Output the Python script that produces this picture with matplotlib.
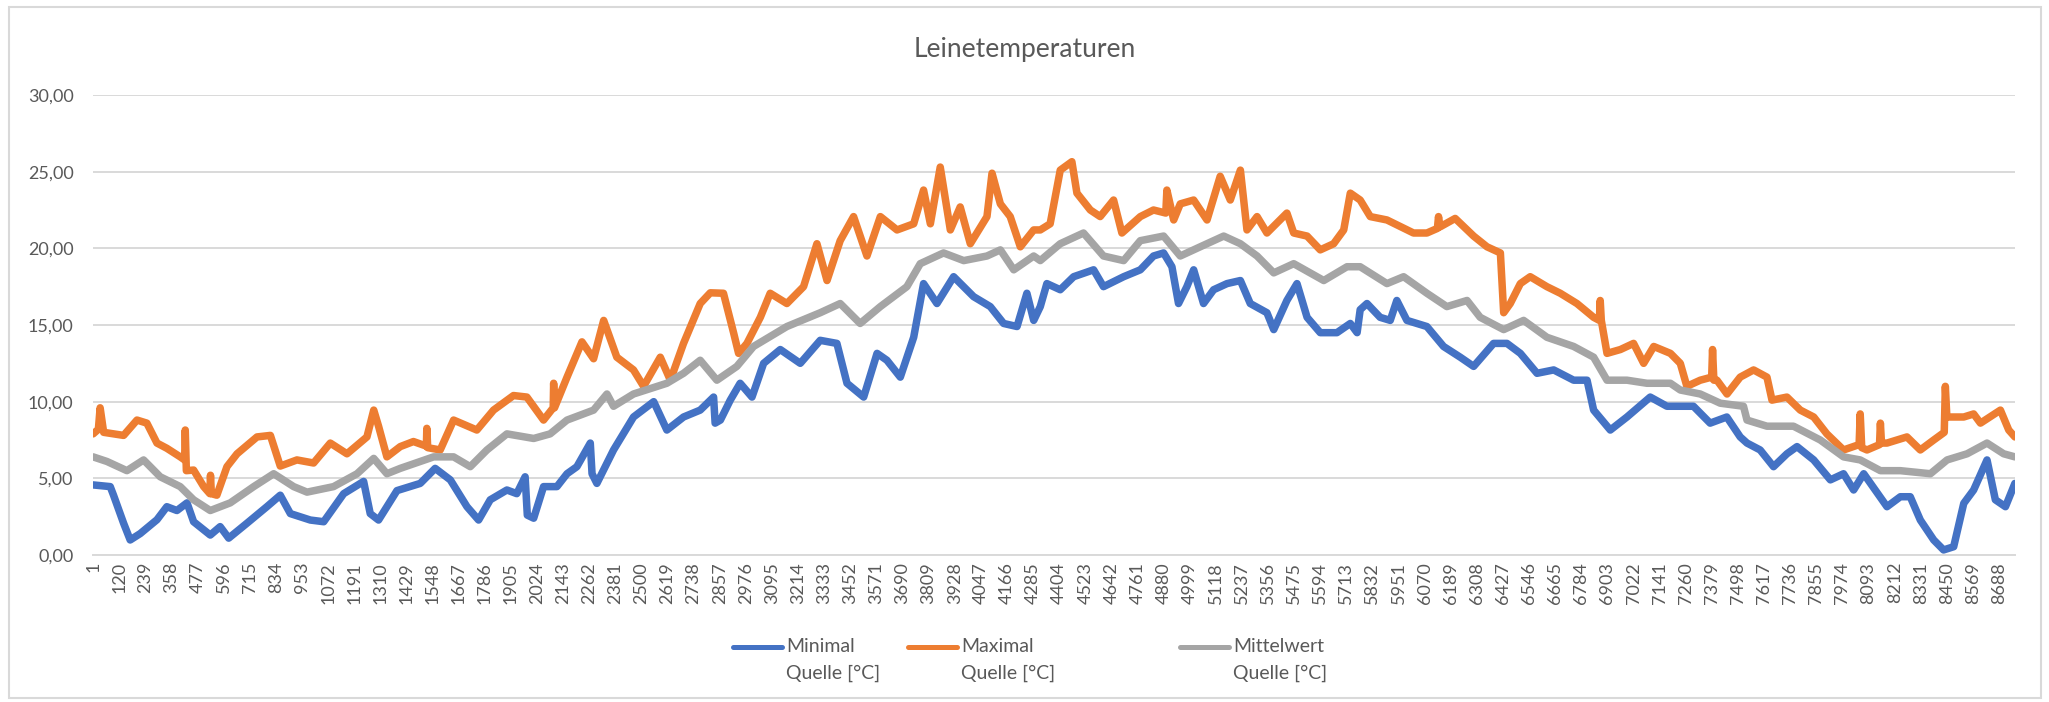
import matplotlib
matplotlib.use("Agg")
import matplotlib.pyplot as plt
from matplotlib.lines import Line2D
from matplotlib.patches import Rectangle
from matplotlib.ticker import FuncFormatter

plt.rcParams['font.family'] = ['Lato', 'DejaVu Sans']

# hour of year -> temperature [°C] at turning points
min_hours = [1, 79, 94, 140, 170, 216, 292, 337, 383, 429, 459, 535, 580, 619, 702, 793, 854, 900,
             991, 1052, 1143, 1234, 1264, 1302, 1386, 1492, 1560, 1629, 1705, 1758, 1811, 1887, 1932,
             1970, 1980, 2009, 2054, 2115, 2161, 2206, 2267, 2275, 2297, 2373, 2464, 2556, 2616, 2692,
             2768, 2829, 2836, 2860, 2905, 2950, 3004, 3057, 3133, 3224, 3315, 3391, 3437, 3513, 3574,
             3619, 3680, 3741, 3786, 3847, 3923, 4014, 4090, 4151, 4212, 4257, 4288, 4318, 4348, 4409,
             4470, 4561, 4606, 4698, 4774, 4834, 4880, 4918, 4948, 4986, 5017, 5062, 5108, 5169, 5230,
             5275, 5351, 5382, 5442, 5488, 5534, 5594, 5670, 5731, 5762, 5776, 5807, 5867, 5913, 5943,
             5989, 6080, 6156, 6232, 6293, 6384, 6445, 6506, 6582, 6658, 6749, 6810, 6840, 6916, 6992,
             7098, 7174, 7235, 7295, 7371, 7447, 7508, 7539, 7599, 7660, 7721, 7767, 7843, 7919, 7979,
             8025, 8071, 8177, 8238, 8283, 8329, 8390, 8435, 8481, 8527, 8572, 8633, 8671, 8717, 8760]
min_vals = [4.57, 4.46, 3.9, 2.07, 0.98, 1.4, 2.3, 3.15, 2.9, 3.4, 2.17, 1.3, 1.85, 1.1, 2.07, 3.15, 3.9, 2.7,
            2.28, 2.17, 4.0, 4.8, 2.7, 2.28, 4.2, 4.67, 5.65, 4.9, 3.15, 2.28, 3.6, 4.24, 4.0,
            5.1, 2.6, 2.4, 4.46, 4.46, 5.3, 5.76, 7.3, 5.3, 4.67, 6.85, 9.0, 10.0, 8.15, 9.0,
            9.45, 10.3, 8.6, 8.8, 10.1, 11.2, 10.3, 12.5, 13.4, 12.5, 14.0, 13.8, 11.2, 10.3, 13.15,
            12.7, 11.6, 14.2, 17.7, 16.4, 18.15, 16.85, 16.2, 15.1, 14.9, 17.07, 15.3, 16.2, 17.7, 17.3,
            18.15, 18.6, 17.5, 18.15, 18.6, 19.5, 19.7, 18.8, 16.4, 17.5, 18.6, 16.4, 17.3, 17.7, 17.9,
            16.4, 15.8, 14.7, 16.6, 17.7, 15.5, 14.5, 14.5, 15.1, 14.5, 16.0, 16.4, 15.5, 15.3, 16.6,
            15.3, 14.9, 13.6, 12.9, 12.3, 13.8, 13.8, 13.15, 11.85, 12.07, 11.4, 11.4, 9.45, 8.15, 9.0,
            10.3, 9.7, 9.7, 9.7, 8.6, 9.0, 7.7, 7.3, 6.85, 5.76, 6.6, 7.07, 6.2, 4.9, 5.3,
            4.24, 5.3, 3.15, 3.8, 3.8, 2.28, 0.98, 0.33, 0.54, 3.37, 4.24, 6.2, 3.6, 3.15, 4.67]

max_hours = [1, 25, 33, 49, 140, 201, 246, 292, 337, 398, 418, 421, 426, 459, 505, 533, 536, 540, 565,
             611, 657, 748, 809, 854, 930, 1006, 1082, 1158, 1249, 1280, 1302, 1340, 1401, 1461, 1520,
             1522, 1526, 1583, 1644, 1750, 1826, 1917, 1978, 2054, 2098, 2100, 2104, 2161, 2229, 2282,
             2328, 2388, 2464, 2510, 2586, 2632, 2692, 2768, 2814, 2874, 2920, 2943, 2981, 3042, 3087,
             3163, 3239, 3300, 3346, 3406, 3467, 3528, 3589, 3665, 3741, 3786, 3817, 3862, 3908, 3953,
             3999, 4075, 4098, 4136, 4181, 4227, 4288, 4318, 4363, 4409, 4462, 4485, 4546, 4591, 4652,
             4690, 4774, 4834, 4890, 4895, 4926, 4956, 5017, 5078, 5138, 5184, 5230, 5260, 5306, 5351,
             5442, 5473, 5534, 5594, 5655, 5701, 5731, 5776, 5822, 5898, 6019, 6080, 6128, 6133, 6140,
             6209, 6293, 6354, 6415, 6430, 6460, 6506, 6551, 6627, 6688, 6764, 6840, 6866, 6870, 6875,
             6901, 6962, 7022, 7068, 7114, 7190, 7235, 7265, 7326, 7378, 7382, 7388, 7402, 7448, 7508,
             7569, 7630, 7653, 7721, 7782, 7843, 7903, 7979, 8050, 8055, 8062, 8086, 8143, 8147, 8152,
             8177, 8268, 8329, 8390, 8438, 8443, 8450, 8466, 8527, 8572, 8603, 8694, 8732, 8760]
max_vals = [7.9, 8.2, 9.6, 8.0, 7.8, 8.8, 8.6, 7.3, 6.96, 6.4, 6.2, 8.15, 5.5, 5.54, 4.46, 4.0, 5.2, 4.0, 3.9,
            5.76, 6.6, 7.7, 7.8, 5.8, 6.2, 6.0, 7.3, 6.6, 7.7, 9.45, 8.4, 6.4, 7.07, 7.4, 7.1,
            8.26, 7.0, 6.85, 8.8, 8.15, 9.45, 10.4, 10.3, 8.8, 9.6, 11.2, 9.6, 11.6, 13.9, 12.8,
            15.3, 12.9, 12.07, 11.0, 12.9, 11.4, 13.8, 16.4, 17.1, 17.07, 14.5, 13.15, 13.8, 15.5, 17.07,
            16.4, 17.5, 20.3, 17.9, 20.5, 22.07, 19.5, 22.07, 21.2, 21.6, 23.8, 21.6, 25.3, 21.2, 22.7,
            20.3, 22.07, 24.9, 22.9, 22.07, 20.1, 21.2, 21.2, 21.6, 25.1, 25.65, 23.6, 22.5, 22.07, 23.15,
            21.0, 22.07, 22.5, 22.3, 23.8, 21.85, 22.9, 23.15, 21.85, 24.7, 23.15, 25.1, 21.2, 22.07, 21.0,
            22.3, 21.0, 20.8, 19.9, 20.3, 21.2, 23.6, 23.15, 22.07, 21.85, 21.0, 21.0, 21.3, 22.07, 21.4,
            21.95, 20.8, 20.1, 19.7, 15.8, 16.4, 17.7, 18.15, 17.5, 17.07, 16.4, 15.5, 15.3, 16.6, 15.3,
            13.15, 13.4, 13.8, 12.5, 13.6, 13.15, 12.5, 11.0, 11.4, 11.6, 13.4, 11.4, 11.4, 10.5, 11.6,
            12.07, 11.6, 10.1, 10.3, 9.45, 9.0, 7.9, 6.85, 7.2, 9.2, 7.0, 6.85, 7.2, 8.6, 7.3,
            7.3, 7.7, 6.85, 7.5, 8.0, 11.0, 9.0, 9.0, 9.0, 9.2, 8.6, 9.45, 8.15, 7.7]

mean_hours = [1, 64, 155, 231, 307, 398, 459, 535, 626, 733, 824, 915, 976, 1097, 1204, 1280, 1340,
              1401, 1553, 1644, 1720, 1796, 1887, 2009, 2084, 2161, 2282, 2343, 2373, 2464, 2616, 2692,
              2768, 2844, 2935, 3011, 3163, 3315, 3406, 3497, 3589, 3710, 3771, 3877, 3969, 4075, 4136,
              4197, 4288, 4318, 4409, 4515, 4606, 4698, 4774, 4880, 4956, 5047, 5154, 5230, 5306, 5382,
              5473, 5610, 5716, 5776, 5898, 5974, 6080, 6171, 6263, 6323, 6430, 6521, 6627, 6749, 6840,
              6901, 6992, 7083, 7190, 7235, 7326, 7417, 7523, 7539, 7630, 7751, 7873, 7979, 8055, 8147,
              8238, 8375, 8451, 8542, 8633, 8709, 8760]
mean_vals = [6.4, 6.1, 5.5, 6.2, 5.1, 4.46, 3.6, 2.9, 3.4, 4.46, 5.3, 4.46, 4.1, 4.46, 5.3, 6.3, 5.3,
             5.65, 6.4, 6.4, 5.76, 6.85, 7.9, 7.6, 7.9, 8.8, 9.45, 10.5, 9.7, 10.5, 11.2, 11.85,
             12.7, 11.4, 12.3, 13.6, 14.9, 15.8, 16.4, 15.1, 16.2, 17.5, 19.0, 19.7, 19.2, 19.5, 19.9,
             18.6, 19.5, 19.2, 20.3, 21.0, 19.5, 19.2, 20.5, 20.8, 19.5, 20.1, 20.8, 20.3, 19.5, 18.4,
             19.0, 17.9, 18.8, 18.8, 17.7, 18.15, 17.07, 16.2, 16.6, 15.5, 14.7, 15.3, 14.2, 13.6, 12.9,
             11.4, 11.4, 11.2, 11.2, 10.76, 10.5, 9.9, 9.7, 8.8, 8.4, 8.4, 7.5, 6.4, 6.2, 5.5,
             5.5, 5.3, 6.2, 6.6, 7.3, 6.6, 6.4]

series_labels = ['Minimal\nQuelle [°C]', 'Maximal\nQuelle [°C]', 'Mittelwert\nQuelle [°C]']
colors = ['#4472C4', '#ED7D31', '#A5A5A5']
n_hours = 8760
tick_step = 119

W, H = 2049, 702
fig = plt.figure(figsize=(W / 100, H / 100), dpi=100)
ax = fig.add_axes([93 / W, 1 - 555 / H, (2015 - 93) / W, (555 - 95) / H])

series = [(min_hours, min_vals), (max_hours, max_vals), (mean_hours, mean_vals)]
for (hx, hv), c in zip(series, colors):
    ax.plot(hx, hv, color=c, lw=5.4, solid_joinstyle='round', solid_capstyle='round')

ax.set_xlim(0.5, n_hours + 0.5)
ax.set_ylim(0, 30)
ax.set_yticks(range(0, 31, 5))
ax.yaxis.set_major_formatter(FuncFormatter(lambda v, p: f"{v:.2f}".replace('.', ',')))
xt = list(range(1, n_hours + 1, tick_step))
ax.set_xticks(xt)
ax.set_xticklabels([str(t) for t in xt], rotation=90)
ax.tick_params(axis='both', length=0, colors='#595959', labelsize=13)
ax.tick_params(axis='y', pad=14)
ax.tick_params(axis='x', pad=5)
ax.yaxis.grid(True, color='#d9d9d9', lw=1.4)
ax.set_axisbelow(True)
for s in ['top', 'right', 'left']:
    ax.spines[s].set_visible(False)
ax.spines['bottom'].set_color('#d9d9d9')
ax.spines['bottom'].set_linewidth(1.4)

fig.text(0.5, 1 - 50 / H, 'Leinetemperaturen', ha='center', va='center',
         fontsize=19, color='#595959')

# legend laid out like the Excel one (handle next to the first line)
leg_x = [733, 908, 1180]
for x0, c, lab in zip(leg_x, colors, series_labels):
    y1 = 1 - 647 / H
    fig.add_artist(Line2D([x0 / W, (x0 + 49) / W], [y1, y1], color=c, lw=3.6,
                          solid_capstyle='round'))
    first, second = lab.split('\n')
    fig.text((x0 + 53) / W, y1, first, ha='left', va='center', fontsize=14, color='#595959')
    fig.text((x0 + 53) / W, 1 - 673 / H, second, ha='left', va='center', fontsize=14,
             color='#595959')

fig.add_artist(Rectangle((9 / W, 4 / H), (2041 - 9) / W, (698 - 7) / H, fill=False,
                         edgecolor='#d9d9d9', lw=1.5))

fig.savefig('out.png', dpi=100)
